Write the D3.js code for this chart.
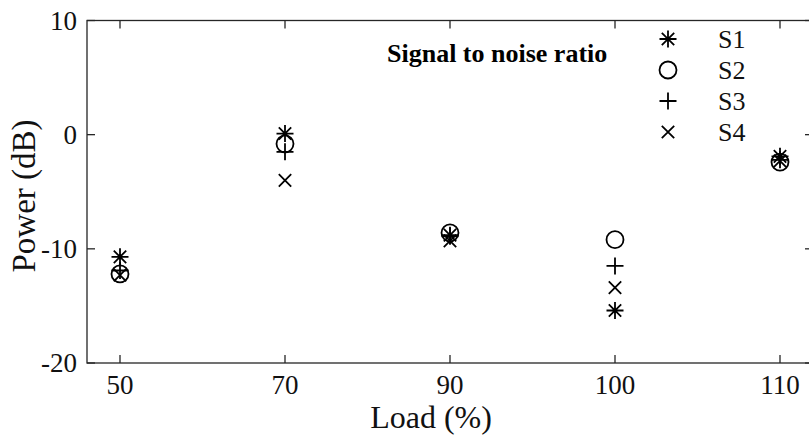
<!DOCTYPE html>
<html>
<head>
<meta charset="utf-8">
<script src="https://cdn.jsdelivr.net/npm/d3@7"></script>
<style>
  body { margin: 0; background: #fff; }
  svg { display: block; }
</style>
</head>
<body>
<div id="chart"></div>
<script>
// Load levels along the x axis (equally spaced categories)
const loads = ["50", "70", "90", "100", "110"];

// Power (dB) per signal at each load
const s1 = [-10.7, 0.1, -8.8, -15.4, -1.9];
const s2 = [-12.2, -0.8, -8.6, -9.2, -2.4];
const s3 = [-11.9, -1.5, -8.9, -11.5, -2.2];
const s4 = [-12.3, -4.0, -9.3, -13.4, -2.3];

const seriesNames = ["S1", "S2", "S3", "S4"];
const markerKinds = ["asterisk", "circle", "plus", "times"];
const yTicks = [-20, -10, 0, 10];

const W = 809, H = 446;
const plot = { left: 87, right: 813, top: 20.5, bottom: 363 };
const font = "'Liberation Serif', 'Times New Roman', serif";
const axisColor = "#262626";
const tickLen = 8;

const svg = d3.select("#chart").append("svg")
  .attr("width", W)
  .attr("height", H);

const x = d3.scalePoint()
  .domain(loads)
  .range([plot.left, plot.right])
  .padding(0.2);

const y = d3.scaleLinear()
  .domain([-20, 10])
  .range([plot.bottom, plot.top]);

// marker path builders, centred on 0,0
function markerPath(kind) {
  const p = d3.path();
  if (kind === "circle") {
    p.moveTo(8.5, 0);
    p.arc(0, 0, 8.5, 0, 2 * Math.PI);
  } else if (kind === "plus") {
    p.moveTo(-8.5, 0); p.lineTo(8.5, 0);
    p.moveTo(0, -8.5); p.lineTo(0, 8.5);
  } else if (kind === "times") {
    const a = 6.2;
    p.moveTo(-a, -a); p.lineTo(a, a);
    p.moveTo(-a, a); p.lineTo(a, -a);
  } else if (kind === "asterisk") {
    const r = 8.5, a = 6.2;
    p.moveTo(-r, 0); p.lineTo(r, 0);
    p.moveTo(0, -r); p.lineTo(0, r);
    p.moveTo(-a, -a); p.lineTo(a, a);
    p.moveTo(-a, a); p.lineTo(a, -a);
  }
  return p.toString();
}

// axes box
svg.append("rect")
  .attr("x", plot.left)
  .attr("y", plot.top)
  .attr("width", plot.right - plot.left)
  .attr("height", plot.bottom - plot.top)
  .attr("fill", "none")
  .attr("stroke", axisColor)
  .attr("stroke-width", 1.3);

// inward ticks on all four sides
const ticks = svg.append("g")
  .attr("stroke", axisColor)
  .attr("stroke-width", 1.3);

loads.forEach(d => {
  ticks.append("line")
    .attr("x1", x(d)).attr("x2", x(d))
    .attr("y1", plot.bottom).attr("y2", plot.bottom - tickLen);
  ticks.append("line")
    .attr("x1", x(d)).attr("x2", x(d))
    .attr("y1", plot.top).attr("y2", plot.top + tickLen);
});

yTicks.forEach(v => {
  ticks.append("line")
    .attr("x1", plot.left).attr("x2", plot.left + tickLen)
    .attr("y1", y(v)).attr("y2", y(v));
  ticks.append("line")
    .attr("x1", plot.right).attr("x2", plot.right - tickLen)
    .attr("y1", y(v)).attr("y2", y(v));
});

// tick labels
svg.append("g")
  .selectAll("text")
  .data(loads)
  .join("text")
  .attr("x", d => x(d))
  .attr("y", 394)
  .attr("text-anchor", "middle")
  .attr("font-family", font)
  .attr("font-size", 27)
  .attr("fill", "#111")
  .text(d => d);

svg.append("g")
  .selectAll("text")
  .data(yTicks)
  .join("text")
  .attr("x", 77)
  .attr("y", d => y(d) + 9)
  .attr("text-anchor", "end")
  .attr("font-family", font)
  .attr("font-size", 27)
  .attr("fill", "#111")
  .text(d => d);

// axis labels
svg.append("text")
  .attr("x", 431)
  .attr("y", 428)
  .attr("text-anchor", "middle")
  .attr("font-family", font)
  .attr("font-size", 32)
  .attr("fill", "#111")
  .text("Load (%)");

svg.append("text")
  .attr("transform", "translate(35,196) rotate(-90)")
  .attr("text-anchor", "middle")
  .attr("font-family", font)
  .attr("font-size", 33)
  .attr("fill", "#111")
  .text("Power (dB)");

// title inside the axes
svg.append("text")
  .attr("x", 387)
  .attr("y", 61.5)
  .attr("font-family", font)
  .attr("font-weight", "bold")
  .attr("font-size", 26)
  .attr("fill", "#000")
  .text("Signal to noise ratio");

// data markers
const allSeries = [s1, s2, s3, s4];
allSeries.forEach((vals, i) => {
  svg.append("g")
    .selectAll("path")
    .data(vals)
    .join("path")
    .attr("transform", (v, j) => `translate(${x(loads[j])},${y(v)})`)
    .attr("d", markerPath(markerKinds[i]))
    .attr("fill", "none")
    .attr("stroke", "#000")
    .attr("stroke-width", 1.8);
});

// legend
const legendRows = [39, 70, 101, 132];
const legend = svg.append("g");
seriesNames.forEach((name, i) => {
  legend.append("path")
    .attr("transform", `translate(668,${legendRows[i]})`)
    .attr("d", markerPath(markerKinds[i]))
    .attr("fill", "none")
    .attr("stroke", "#000")
    .attr("stroke-width", 1.8);
  legend.append("text")
    .attr("x", 718)
    .attr("y", legendRows[i] + 9)
    .attr("font-family", font)
    .attr("font-size", 26)
    .attr("fill", "#111")
    .text(name);
});
</script>
</body>
</html>
